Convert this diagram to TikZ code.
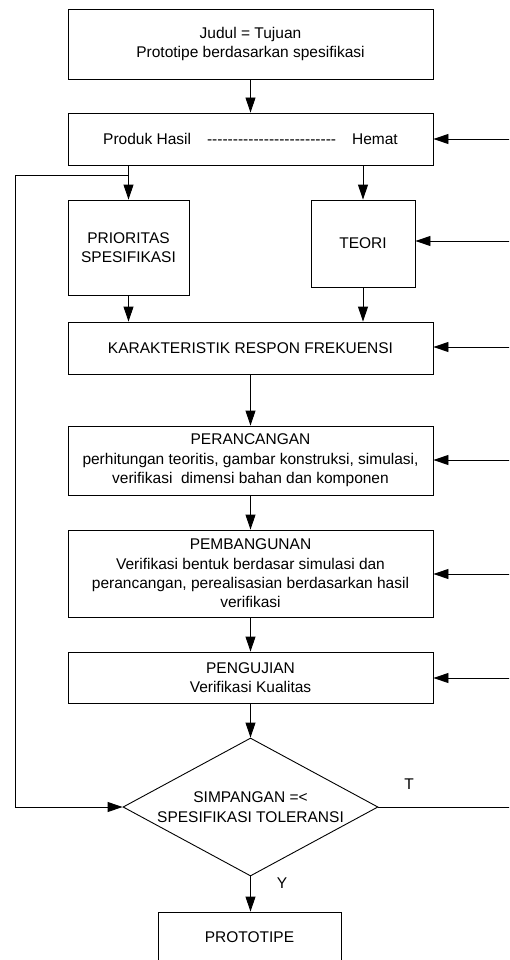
\documentclass[tikz,border=0pt]{standalone}
\usepackage{fontspec}
\setmainfont{Liberation Sans}
\usetikzlibrary{shapes.geometric,arrows.meta}
\newcommand\mydash{\mbox{-}}
\begin{document}
\begin{tikzpicture}[x=1pt,y=-1pt,
  every node/.style={font=\fontsize{15.5}{19.4}\selectfont},
  box/.style={draw, line width=0.9pt, inner sep=0pt, align=center},
  arr/.style={-{Triangle[length=15pt,width=10pt]}, line width=0.9pt},
  ln/.style={line width=0.9pt}]
\useasboundingbox (0,0) rectangle (509,960);
\clip (0,0) rectangle (509,960);
\node[box, minimum width=365pt, minimum height=70pt] (j) at (250.5,44) {Judul = Tujuan\\Prototipe berdasarkan spesifikasi};
\node[box, minimum width=365pt, minimum height=52pt] (p) at (250.5,139) {Produk Hasil\hspace{16pt}\mydash\mydash\mydash\mydash\mydash\mydash\mydash\mydash\mydash\mydash\mydash\mydash\mydash\mydash\mydash\mydash\mydash\mydash\mydash\mydash\mydash\mydash\mydash\mydash\mydash\hspace{16pt}Hemat};
\node[box, minimum width=121pt, minimum height=95pt] (pr) at (128.5,247.5) {PRIORITAS\\SPESIFIKASI};
\node[box, minimum width=104pt, minimum height=87pt] (t) at (363,243.5) {TEORI};
\node[box, minimum width=365pt, minimum height=52pt] (k) at (250.5,348) {KARAKTERISTIK RESPON FREKUENSI};
\node[box, minimum width=365pt, minimum height=69pt] (per) at (250.5,460.5) {PERANCANGAN\\perhitungan teoritis, gambar konstruksi, simulasi,\\verifikasi\ \ dimensi bahan dan komponen};
\node[box, minimum width=365pt, minimum height=87pt] (pem) at (250.5,573.5) {PEMBANGUNAN\\Verifikasi bentuk berdasar simulasi dan\\perancangan, perealisasian berdasarkan hasil\\verifikasi};
\node[box, minimum width=365pt, minimum height=51pt] (pen) at (250.5,677.5) {PENGUJIAN\\Verifikasi Kualitas};
\node[box, diamond, shape aspect=1.85, minimum width=255pt, minimum height=138pt] (d) at (250.5,807) {SIMPANGAN =<\\SPESIFIKASI TOLERANSI};
\node[box, minimum width=183pt, minimum height=50pt] (proto) at (249.5,937) {PROTOTIPE};
\node (tl) at (409,784) {T};
\node (yl) at (282,883) {Y};
% vertical flow
\draw[arr] (j) -- (p);
\draw[arr] (pr.north |- p.south) -- (pr.north);
\draw[arr] (t.north |- p.south) -- (t.north);
\draw[arr] (pr.south) -- (pr.south |- k.north);
\draw[arr] (t.south) -- (t.south |- k.north);
\draw[arr] (k) -- (per);
\draw[arr] (per) -- (pem);
\draw[arr] (pem) -- (pen);
\draw[arr] (pen.south) -- (d.north);
\draw[arr] (d.south) -- (d.south |- proto.north);
% feedback loop
\coordinate (fb) at (128.5,175);
\coordinate (fbl) at (15,175);
\draw[arr] (fb) -- (fbl) |- (d.west);
% right inputs
\coordinate (r1) at (512,139);
\coordinate (r2) at (512,241);
\coordinate (r3) at (512,347);
\coordinate (r4) at (512,460);
\coordinate (r5) at (512,574);
\coordinate (r6) at (512,678);
\coordinate (r7) at (512,807);
\draw[arr] (r1) -- (r1 -| p.east);
\draw[arr] (r2) -- (r2 -| t.east);
\draw[arr] (r3) -- (r3 -| k.east);
\draw[arr] (r4) -- (r4 -| per.east);
\draw[arr] (r5) -- (r5 -| pem.east);
\draw[arr] (r6) -- (r6 -| pen.east);
\draw[ln] (d.east) -- (r7);
\end{tikzpicture}
\end{document}
